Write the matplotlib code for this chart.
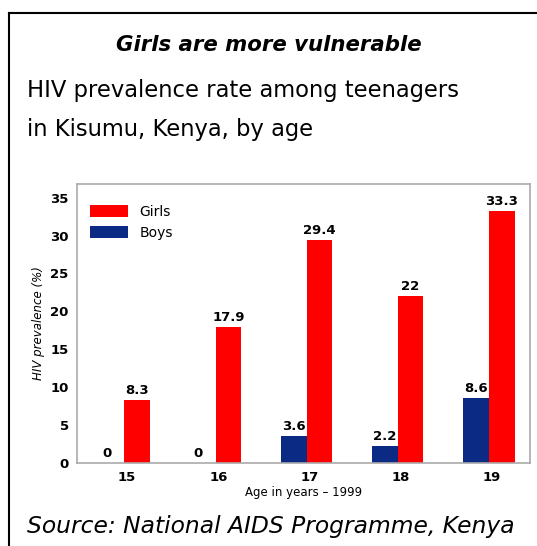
import numpy as np
import matplotlib
matplotlib.use('Agg')
import matplotlib.pyplot as plt
from matplotlib.lines import Line2D

ages = ['15', '16', '17', '18', '19']
girls = [8.3, 17.9, 29.4, 22, 33.3]
boys = [0, 0, 3.6, 2.2, 8.6]
girls_labels = ['8.3', '17.9', '29.4', '22', '33.3']
boys_labels = ['0', '0', '3.6', '2.2', '8.6']

red = '#ff0000'
navy = '#0b2a84'

fig = plt.figure(figsize=(5.37, 5.46), dpi=100)

# frame lines (left and top)
fig.add_artist(Line2D([9/537, 9/537], [0, 1 - 13/546], color='black', lw=1.5))
fig.add_artist(Line2D([9/537, 1], [1 - 13/546, 1 - 13/546], color='black', lw=1.5))

fig.text(0.5, 0.918, 'Girls are more vulnerable', ha='center', va='center',
         fontsize=15.3, fontweight='bold', fontstyle='italic')
fig.text(0.05, 0.835, 'HIV prevalence rate among teenagers', ha='left',
         va='center', fontsize=16.3)
fig.text(0.05, 0.762, 'in Kisumu, Kenya, by age', ha='left',
         va='center', fontsize=16.3)
fig.text(0.05, 0.035, 'Source: National AIDS Programme, Kenya', ha='left',
         va='center', fontsize=16.8, fontstyle='italic')

ax = fig.add_axes([0.1434, 0.152, 0.987 - 0.1434, 0.663 - 0.152])
x = np.arange(len(ages))
w = 0.28
bb = ax.bar(x - w / 2 - 0.03, boys, w, color=navy, label='Boys')
bg = ax.bar(x + w / 2 - 0.03, girls, w, color=red, label='Girls')

for xi, v, s in zip(x, boys, boys_labels):
    ax.text(xi - w / 2 - 0.03 - (0.05 if v == 0 else 0), v + 0.4, s,
            ha='center', va='bottom', fontsize=9.5, fontweight='bold')
for xi, v, s in zip(x, girls, girls_labels):
    ax.text(xi + w / 2 - 0.03, v + 0.4, s, ha='center', va='bottom',
            fontsize=9.5, fontweight='bold')

ax.set_xlim(-0.55, 4.42)
ax.set_ylim(0, 36.8)
ax.set_yticks(np.arange(0, 36, 5))
ax.set_xticks(x)
ax.set_xticklabels(ages)
ax.tick_params(length=0, labelsize=9.5, pad=6)
for lab in ax.get_xticklabels() + ax.get_yticklabels():
    lab.set_fontweight('bold')
for sp in ax.spines.values():
    sp.set_color('#aaaaaa')
    sp.set_linewidth(1.2)

ax.set_xlabel('Age in years \u2013 1999', fontsize=8.5, labelpad=1)
ax.set_ylabel('HIV prevalence (%)', fontsize=8.5, fontstyle='italic',
              labelpad=4)

ax.legend(handles=[bg, bb], loc='upper left', frameon=False, fontsize=10,
          handlelength=2.8, handleheight=1.0, bbox_to_anchor=(0.0, 0.97))

fig.savefig('out.png', dpi=100)
